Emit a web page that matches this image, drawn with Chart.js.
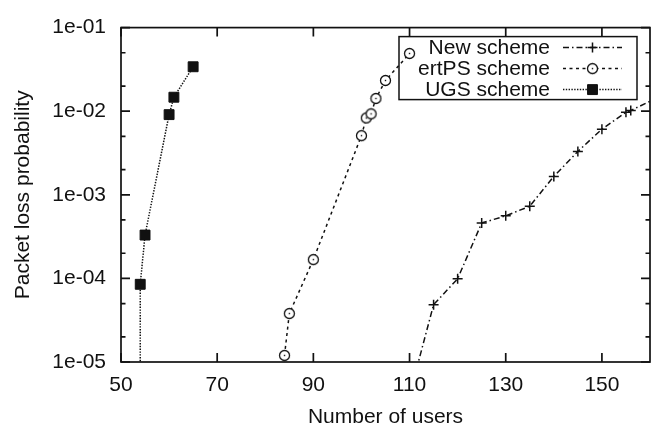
<!DOCTYPE html>
<html>
<head>
<meta charset="utf-8">
<script src="https://cdn.jsdelivr.net/npm/chart.js@4.4.1/dist/chart.umd.min.js"></script>
<style>
  html, body { margin: 0; padding: 0; background: #fff; }
</style>
</head>
<body>
<canvas id="chart" width="661" height="430"></canvas>
<script>
// values
const newUsers = [110, 115, 120, 125, 130, 135, 140, 145, 150, 155, 156, 165];
const newLoss = [4e-6, 4.85e-5, 9.9e-5, 4.6e-4, 5.6e-4, 7.3e-4, 1.66e-3, 3.3e-3, 6.1e-3, 9.7e-3, 1.02e-2, 1.8e-2];
const ertpsUsers = [84, 85, 90, 100, 101, 102, 103, 105, 110];
const ertpsLoss = [1.2e-5, 3.8e-5, 1.68e-4, 5.1e-3, 8.3e-3, 9.3e-3, 1.42e-2, 2.33e-2, 4.9e-2];
const ugsUsers = [54, 54, 55, 60, 61, 65];
const ugsLoss = [1e-7, 8.5e-5, 3.3e-4, 9.1e-3, 1.47e-2, 3.4e-2];
const seriesNames = ["New scheme", "ertPS scheme", "UGS scheme"];
const xTicks = [50, 70, 90, 110, 130, 150];
const yTicks = [1e-5, 1e-4, 1e-3, 1e-2, 1e-1];
const yMinorTicks = [2e-5, 5e-5, 2e-4, 5e-4, 2e-3, 5e-3, 2e-2, 5e-2];

const FONT = { family: "'Liberation Sans', Arial, sans-serif", size: 21 };
const INK = "#111";

function pairs(xs, ys) {
  return xs.map((x, i) => ({ x, y: ys[i] }));
}

// open circle with a dot in the middle
function circleMark() {
  const c = document.createElement("canvas");
  c.width = 13;
  c.height = 13;
  const g = c.getContext("2d");
  g.fillStyle = "#fff";
  g.strokeStyle = INK;
  g.lineWidth = 1.3;
  g.beginPath();
  g.arc(6.5, 6.5, 5, 0, Math.PI * 2);
  g.fill();
  g.stroke();
  g.fillStyle = INK;
  g.fillRect(5.8, 5.8, 1.4, 1.4);
  return c;
}

function fmtExp(v) {
  const e = Math.round(Math.log10(v));
  const s = e < 0 ? "-" : "+";
  return "1e" + s + String(Math.abs(e)).padStart(2, "0");
}

const frame = {
  id: "frame",
  afterDraw(chart) {
    const { ctx, chartArea: a, scales } = chart;
    const x = scales.x, y = scales.y;
    ctx.save();
    ctx.strokeStyle = INK;
    ctx.lineWidth = 1.7;
    ctx.setLineDash([]);
    ctx.strokeRect(a.left, a.top, a.right - a.left, a.bottom - a.top);
    ctx.beginPath();
    xTicks.forEach((v) => {
      const px = x.getPixelForValue(v);
      ctx.moveTo(px, a.bottom);
      ctx.lineTo(px, a.bottom - 9);
      ctx.moveTo(px, a.top);
      ctx.lineTo(px, a.top + 9);
    });
    const side = (v, len) => {
      const py = y.getPixelForValue(v);
      ctx.moveTo(a.left, py);
      ctx.lineTo(a.left + len, py);
      ctx.moveTo(a.right, py);
      ctx.lineTo(a.right - len, py);
    };
    yTicks.forEach((v) => side(v, 9));
    yMinorTicks.forEach((v) => side(v, 4.5));
    ctx.stroke();

    // legend, gnuplot style: text right aligned, sample on the right
    const boxRight = a.right - 13;
    const boxTop = a.top + 9;
    ctx.lineWidth = 1.5;
    ctx.strokeRect(boxRight - 238, boxTop, 238, 63);
    ctx.font = FONT.size + "px " + FONT.family;
    ctx.textAlign = "right";
    ctx.textBaseline = "middle";
    chart.data.datasets.forEach((ds, i) => {
      const ry = boxTop + 11 + i * 21;
      ctx.fillStyle = INK;
      ctx.fillText(ds.label, boxRight - 87, ry + 1);
      ctx.strokeStyle = INK;
      ctx.lineWidth = ds.borderWidth;
      ctx.setLineDash(ds.borderDash);
      ctx.beginPath();
      ctx.moveTo(boxRight - 74, ry);
      ctx.lineTo(boxRight - 15, ry);
      ctx.stroke();
      ctx.setLineDash([]);
      ctx.fillStyle = ds.pointBackgroundColor;
      ctx.lineWidth = ds.pointBorderWidth;
      Chart.helpers.drawPoint(ctx, {
        pointStyle: ds.pointStyle,
        radius: ds.pointRadius,
        borderWidth: ds.pointBorderWidth,
        rotation: 0,
      }, boxRight - 44.5, ry);
    });
    ctx.restore();
  },
};

const common = {
  borderColor: INK,
  pointBorderColor: INK,
  borderWidth: 1.5,
  tension: 0,
  fill: false,
};

new Chart(document.getElementById("chart"), {
  type: "line",
  data: {
    datasets: [
      {
        ...common,
        label: seriesNames[0],
        data: pairs(newUsers, newLoss),
        borderDash: [6, 3, 1.5, 3],
        pointStyle: "cross",
        pointRadius: 5,
        pointBorderWidth: 1.5,
        pointBackgroundColor: INK,
      },
      {
        ...common,
        label: seriesNames[1],
        data: pairs(ertpsUsers, ertpsLoss),
        borderDash: [3, 3.5],
        pointStyle: circleMark(),
        pointRadius: 6,
        pointBorderWidth: 1.3,
        pointBackgroundColor: "#fff",
      },
      {
        ...common,
        label: seriesNames[2],
        data: pairs(ugsUsers, ugsLoss),
        borderDash: [1.4, 1.4],
        pointStyle: "rect",
        pointRadius: 7,
        pointBorderWidth: 1,
        pointBackgroundColor: INK,
      },
    ],
  },
  options: {
    responsive: false,
    animation: false,
    events: [],
    layout: { padding: { top: 16, right: 11, left: 0, bottom: 0 } },
    plugins: { legend: { display: false }, tooltip: { enabled: false } },
    scales: {
      x: {
        type: "linear",
        min: 50,
        max: 160,
        grid: { display: false, drawTicks: false },
        border: { display: false },
        afterBuildTicks: (s) => { s.ticks = xTicks.map((v) => ({ value: v })); },
        afterFit: (s) => { s.height = 68; },
        ticks: { padding: 11, color: INK, font: FONT, maxRotation: 0, autoSkip: false },
        title: { display: true, text: "Number of users", color: INK, font: FONT, padding: { top: 0, bottom: 0 } },
      },
      y: {
        type: "logarithmic",
        min: 1e-5,
        max: 1e-1,
        grid: { display: false, drawTicks: false },
        border: { display: false },
        afterBuildTicks: (s) => { s.ticks = yTicks.map((v) => ({ value: v })); },
        afterFit: (s) => { s.width = 121; },
        ticks: { padding: 15, color: INK, font: FONT, autoSkip: false, callback: (v) => fmtExp(v) },
        title: { display: true, text: "Packet loss probability", color: INK, font: FONT, padding: { top: 11, bottom: 0 } },
      },
    },
  },
  plugins: [frame],
});
</script>
</body>
</html>
